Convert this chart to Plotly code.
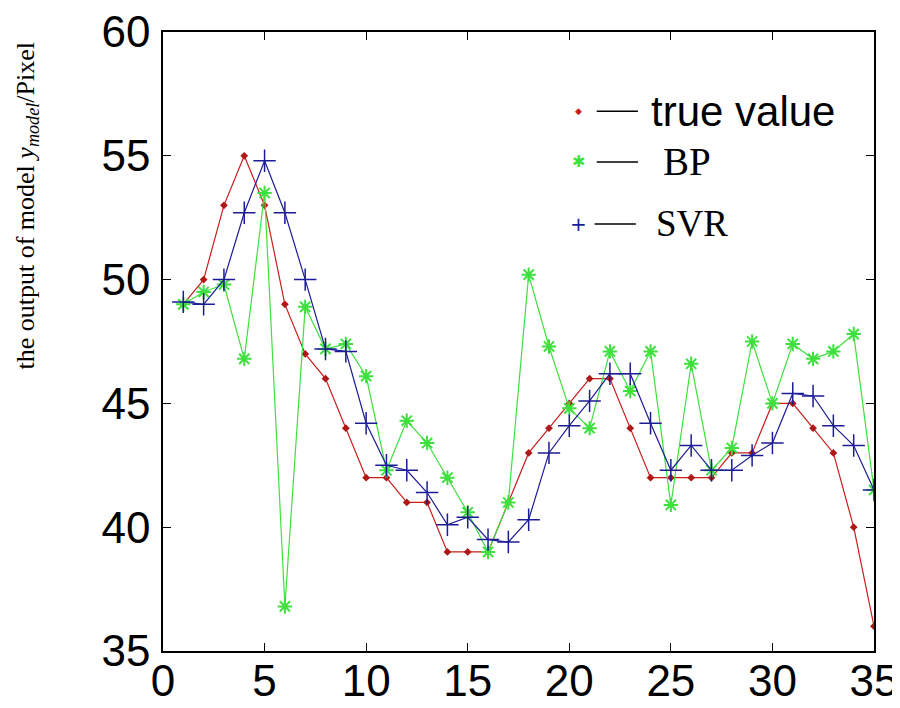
import plotly.graph_objects as go

x_index = list(range(1, 36))

true_value = [49, 50, 53, 55, 53, 49, 47, 46, 44, 42,
              42, 41, 41, 39, 39, 39, 41, 43, 44, 45,
              46, 46, 44, 42, 42, 42, 42, 43, 43, 45,
              45, 44, 43, 40, 36]

bp_values = [49.0, 49.5, 49.8, 46.8, 53.5, 36.8, 48.9, 47.2, 47.4, 46.1,
             42.3, 44.3, 43.4, 42.0, 40.6, 39.0, 41.0, 50.2, 47.3, 44.8,
             44.0, 47.1, 45.5, 47.1, 40.9, 46.6, 42.3, 43.2, 47.5, 45.0,
             47.4, 46.8, 47.1, 47.8, 41.5]

svr_values = [49.1, 49.0, 50.0, 52.7, 54.8, 52.7, 50.0, 47.2, 47.1, 44.2,
              42.5, 42.3, 41.4, 40.1, 40.4, 39.5, 39.4, 40.3, 43.0, 44.1,
              45.1, 46.2, 46.2, 44.2, 42.3, 43.3, 42.3, 42.3, 42.9, 43.4,
              45.4, 45.3, 44.1, 43.3, 41.5]

x_ticks = [0, 5, 10, 15, 20, 25, 30, 35]
y_ticks = [35, 40, 45, 50, 55, 60]

RED = "#c81e1e"
GREEN = "#3ee03e"
BLUE = "#1c1c96"

fig = go.Figure()

fig.add_trace(go.Scatter(
    x=x_index, y=true_value, mode="lines+markers", name="true value",
    line=dict(color=RED, width=1.2),
    marker=dict(symbol="diamond", size=6, color="#b01818"),
))
fig.add_trace(go.Scatter(
    x=x_index, y=bp_values, mode="lines+markers", name="BP",
    line=dict(color=GREEN, width=1.2),
    marker=dict(symbol="asterisk-open", size=12, color=GREEN, line=dict(color=GREEN, width=2)),
))
fig.add_trace(go.Scatter(
    x=x_index, y=svr_values, mode="lines+markers", name="SVR",
    line=dict(color=BLUE, width=1.2),
    marker=dict(symbol="cross-thin-open", size=16, color=BLUE, line=dict(color=BLUE, width=1.5)),
))

tick_font = dict(family="Liberation Sans, Arial, sans-serif", size=44, color="black")

# The page body has an 8px default margin, so the figure is 8px smaller
# than the window and the margins are shifted accordingly.
fig.update_layout(
    width=892, height=700,
    margin=dict(l=155, r=26, t=24, b=57, autoexpand=False),
    paper_bgcolor="white", plot_bgcolor="white",
    showlegend=False,
    xaxis=dict(range=[0, 35], tickvals=x_ticks, ticktext=[str(v) for v in x_ticks],
               showgrid=False, zeroline=False, showline=True, linecolor="black", linewidth=1.5,
               mirror="ticks", ticks="inside", ticklen=8, tickcolor="black", tickwidth=1.2,
               tickfont=tick_font, ticklabelstandoff=-10, automargin=False,
               ticklabeloverflow="allow"),
    yaxis=dict(range=[35, 60], tickvals=y_ticks, ticktext=[str(v) for v in y_ticks],
               showgrid=False, zeroline=False, showline=True, linecolor="black", linewidth=1.5,
               mirror="ticks", ticks="inside", ticklen=8, tickcolor="black", tickwidth=1.2,
               tickfont=tick_font, ticklabelstandoff=2, automargin=False,
               ticklabeloverflow="allow"),
)

# y-axis title (rotated), placed as in the reference
fig.add_annotation(
    text="the output of model <i>y</i><sub><i>model</i></sub>/Pixel",
    xref="paper", yref="paper", x=-0.191, y=0.72,
    textangle=-90, showarrow=False, xanchor="center", yanchor="middle",
    font=dict(family="Liberation Serif, Times New Roman, serif", size=26, color="black"),
)

# Custom legend in the upper right of the plot
legend_rows = [
    ("◆", RED, 9, 0.872, 0.610, 0.668, 0.683, "true value",
     "Liberation Sans, Arial, sans-serif", 42),
    ("✱", GREEN, 16, 0.790, 0.610, 0.668, 0.700, "BP",
     "Liberation Serif, Times New Roman, serif", 39),
    ("+", BLUE, 20, 0.690, 0.607, 0.665, 0.690, "SVR",
     "Liberation Serif, Times New Roman, serif", 37),
]
for glyph, col, gsize, yy, x0, x1, xt, label, fam, fsize in legend_rows:
    fig.add_annotation(text=glyph, xref="paper", yref="paper", x=0.584, y=yy,
                       showarrow=False, xanchor="center", yanchor="middle",
                       font=dict(size=gsize, color=col, family="DejaVu Sans"))
    fig.add_shape(type="line", xref="paper", yref="paper", x0=x0, x1=x1, y0=yy, y1=yy,
                  line=dict(color="black", width=1.5))
    fig.add_annotation(text=label, xref="paper", yref="paper", x=xt, y=yy,
                       showarrow=False, xanchor="left", yanchor="middle",
                       font=dict(size=fsize, color="black", family=fam))

fig.write_html("out.html")
